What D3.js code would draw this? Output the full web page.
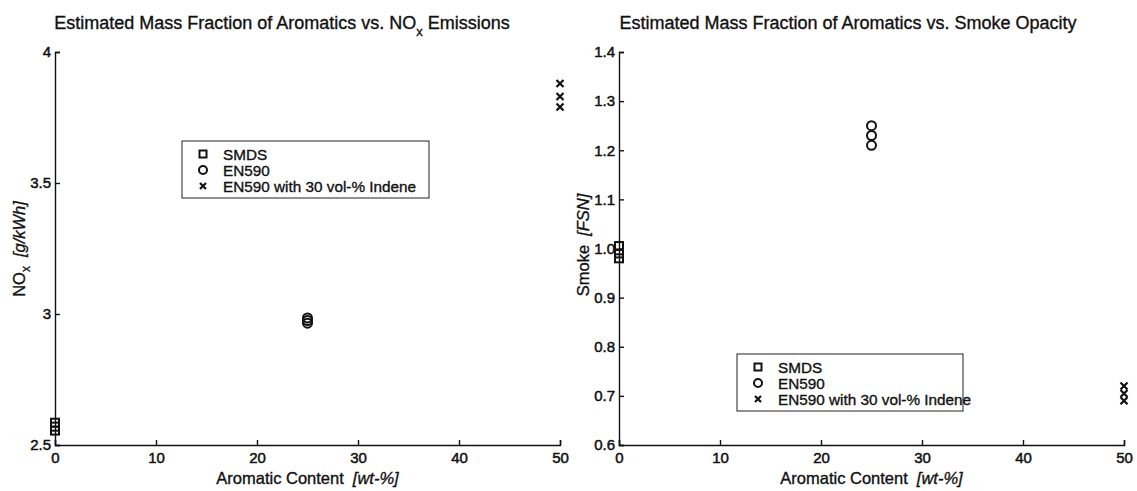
<!DOCTYPE html>
<html>
<head>
<meta charset="utf-8">
<script src="https://cdn.jsdelivr.net/npm/d3@7"></script>
<style>
  body { margin: 0; background: #fff; }
  svg { display: block; font-family: "Liberation Sans", Arial, sans-serif; }
  text { fill: #111; stroke: #111; stroke-width: 0.35px; }
  .tick text { font-size: 15px; fill: #111; stroke-width: 0.5px; }
  .domain, .tick line { stroke: #111; stroke-width: 1.4; }
</style>
</head>
<body>
<svg id="chart" width="1137" height="491"></svg>
<script>
// Aromatic content of each fuel [wt-%]
const fuels = ["SMDS", "EN590", "EN590 with 30 vol-% Indene"];
const aromatic = [0, 25, 50];

// Repeated measurements per fuel
const noxValues = [
  [2.555, 2.57, 2.585],
  [2.965, 2.975, 2.985],
  [3.79, 3.83, 3.88]
];
const smokeValues = [
  [0.98, 0.99, 1.005],
  [1.21, 1.23, 1.25],
  [0.69, 0.705, 0.72]
];

const xTicks = [0, 10, 20, 30, 40, 50];
const noxTicks = [2.5, 3, 3.5, 4];
const smokeTicks = [0.6, 0.7, 0.8, 0.9, 1, 1.1, 1.2, 1.3, 1.4];
const markerShapes = ["square", "circle", "cross"];

const svg = d3.select("#chart");

function drawMarker(g, shape, x, y, size) {
  if (shape === "square") {
    g.append("rect").attr("x", x - size / 2).attr("y", y - size / 2).attr("width", size).attr("height", size)
      .attr("fill", "none").attr("stroke", "#111").attr("stroke-width", 2);
  } else if (shape === "circle") {
    g.append("circle").attr("cx", x).attr("cy", y).attr("r", size / 2 + 0.5)
      .attr("fill", "none").attr("stroke", "#111").attr("stroke-width", 2);
  } else {
    const s = size / 2 - 0.5;
    g.append("path").attr("d", `M${x - s},${y - s}L${x + s},${y + s}M${x - s},${y + s}L${x + s},${y - s}`)
      .attr("stroke", "#111").attr("stroke-width", 2.2);
  }
}

function panel(opts) {
  const g = svg.append("g");
  const x = d3.scaleLinear().domain([0, 50]).range([opts.left, opts.right]);
  const y = d3.scaleLinear().domain(opts.yDomain).range([opts.bottom, opts.top]);

  g.append("g").attr("transform", `translate(0,${opts.bottom})`)
    .call(d3.axisBottom(x).tickValues(xTicks).tickFormat(d3.format("d")).tickSize(-5).tickSizeOuter(-5).tickPadding(7));
  g.append("g").attr("transform", `translate(${opts.left},0)`)
    .call(d3.axisLeft(y).tickValues(opts.yTicks).tickFormat(opts.yFormat).tickSize(-5).tickSizeOuter(-5).tickPadding(4));

  // measured points
  const pts = g.append("g");
  opts.values.forEach((vals, i) => {
    vals.forEach(v => drawMarker(pts, markerShapes[i], x(aromatic[i]), y(v), 8));
  });

  // title
  const title = g.append("text").attr("x", opts.titleX).attr("y", 29)
    .attr("text-anchor", "middle").attr("font-size", 18).attr("fill", "#111");
  opts.title(title);

  // x axis label
  const xl = g.append("text").attr("x", (opts.left + opts.right) / 2).attr("y", 484)
    .attr("text-anchor", "middle").attr("font-size", 16.5).attr("fill", "#111");
  xl.append("tspan").text("Aromatic Content");
  xl.append("tspan").attr("dx", 9).attr("font-style", "italic").text("[wt-%]");

  // y axis label
  const yl = g.append("text").attr("transform", `translate(${opts.yLabelX},${opts.yLabelY}) rotate(-90)`)
    .attr("text-anchor", "middle").attr("font-size", 16.5).attr("fill", "#111");
  opts.yLabel(yl);

  // legend
  const lg = g.append("g");
  lg.append("rect").attr("x", opts.legend.x).attr("y", opts.legend.y)
    .attr("width", opts.legend.w).attr("height", opts.legend.h)
    .attr("fill", "#fff").attr("stroke", "#222").attr("stroke-width", 1);
  fuels.forEach((f, i) => {
    const cy = opts.legend.y + 13 + i * 16;
    const mx = opts.legend.x + 21;
    drawMarker(lg, markerShapes[i], mx, cy, 7);
    lg.append("text").attr("x", opts.legend.x + 41).attr("y", cy + 5.5)
      .attr("font-size", 15.3).attr("fill", "#111").text(f);
  });
}

panel({
  left: 55, right: 560, top: 52, bottom: 445,
  yDomain: [2.5, 4], yTicks: noxTicks, yFormat: d3.format(""),
  values: noxValues,
  titleX: 282,
  title: t => {
    t.append("tspan").text("Estimated Mass Fraction of Aromatics vs. NO");
    t.append("tspan").attr("font-size", 13).attr("dy", 7).text("x");
    t.append("tspan").attr("dy", -7).text(" Emissions");
  },
  yLabelX: 25, yLabelY: 249,
  yLabel: t => {
    t.append("tspan").text("NO");
    t.append("tspan").attr("font-size", 12).attr("dy", 5).text("x");
    t.append("tspan").attr("dy", -5).attr("dx", 9).attr("font-style", "italic").text("[g/kWh]");
  },
  legend: { x: 182, y: 141, w: 247, h: 57 }
});

panel({
  left: 619, right: 1124, top: 52, bottom: 445,
  yDomain: [0.6, 1.4], yTicks: smokeTicks, yFormat: d3.format(".1f"),
  values: smokeValues,
  titleX: 848,
  title: t => t.text("Estimated Mass Fraction of Aromatics vs. Smoke Opacity"),
  yLabelX: 589, yLabelY: 245,
  yLabel: t => {
    t.append("tspan").text("Smoke");
    t.append("tspan").attr("dx", 9).attr("font-style", "italic").text("[FSN]");
  },
  legend: { x: 737, y: 354, w: 226, h: 57 }
});
</script>
</body>
</html>
